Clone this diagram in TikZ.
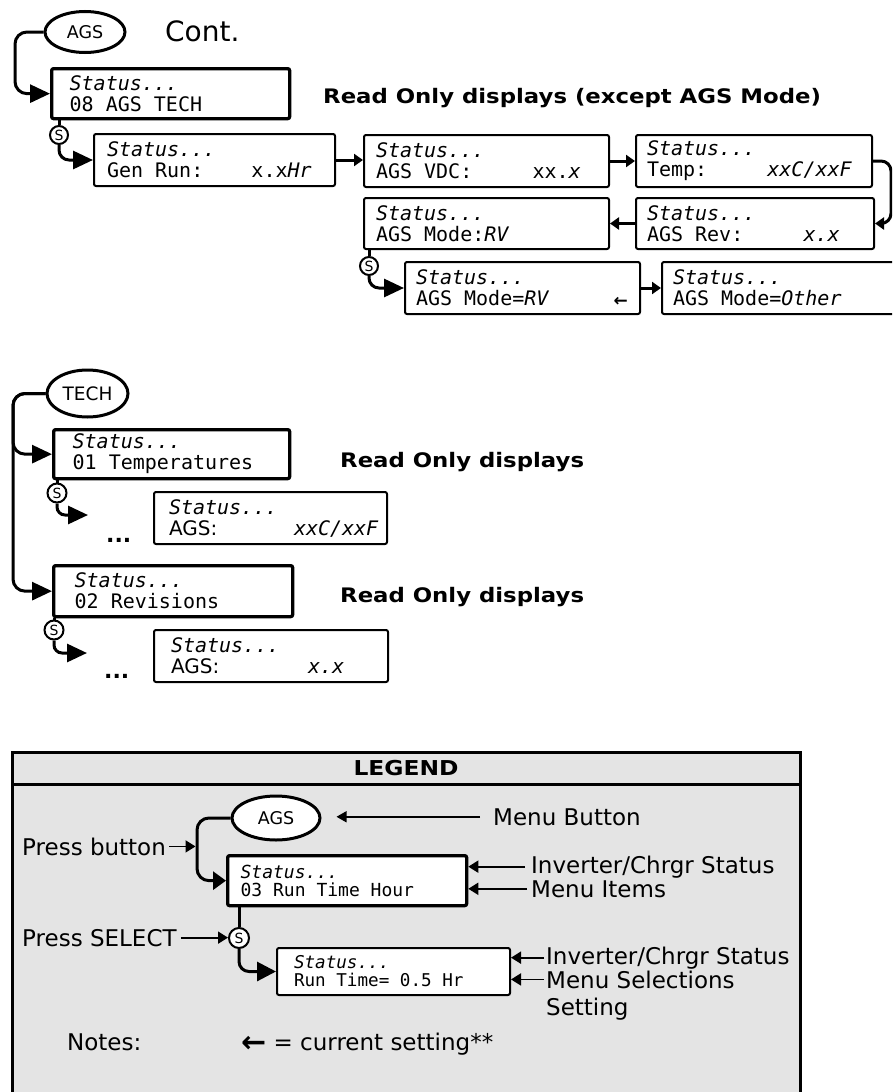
\documentclass[tikz,border=0pt]{standalone}
\usepackage{fontspec}
\setmainfont{DejaVu Sans}
\setmonofont{DejaVu Sans Mono}
\usetikzlibrary{arrows.meta,shapes.geometric}
\definecolor{lgray}{HTML}{E4E4E4}
\newcommand{\wbold}[2]{\scalebox{1.14}[1]{\fontsize{#1}{#1}\selectfont\bfseries #2}}
\newcommand{\ms}{\spaceskip=0pt\xspaceskip=0pt\relax}
\newcommand{\curarrow}[2]{\raisebox{-#2}{\rmfamily\bfseries\fontsize{#1}{#1}\selectfont ←}}
\frenchspacing
\begin{document}
\begin{tikzpicture}[x=1pt,y=-1pt,
 conn/.style={line width=3pt},
 bigarrow/.style={-{Triangle[length=20pt,width=18pt]}},
 smallarrow/.style={-{Triangle[length=9pt,width=12pt]}},
 lblarrow/.style={line width=1.8pt,-{Triangle[length=10pt,width=12pt]}},
 lcd/.style={draw, rounded corners=2pt, anchor=north west, align=left, inner ysep=0pt, fill=white, font=\ttfamily\fontsize{20}{21}\selectfont},
 thickbox/.style={lcd, line width=3.3pt},
 thinbox/.style={lcd, line width=2pt},
 btn/.style={draw, ellipse, line width=3pt, inner sep=0pt, fill=white},
 sel/.style={draw, circle, line width=2pt, inner sep=0pt, minimum size=18pt, fill=white, font=\fontsize{14}{14}\selectfont},
 lbl/.style={inner sep=0pt, anchor=base west, font=\fontsize{23}{23}\selectfont},
]
\useasboundingbox (0,0) rectangle (892,1092);
\clip (0,0) rectangle (892,1092);

% ---------------- top section ----------------
\node[btn, minimum width=80pt, minimum height=41pt, font=\fontsize{17.5}{17.5}\selectfont] (ags1) at (85,32) {AGS};
\node[inner sep=0pt, anchor=base west, font=\fontsize{28}{28}\selectfont] (cont) at (165,41) {Cont.};
\node[thickbox, text width=202pt, inner xsep=18pt, minimum height=50pt] (b08) at (50,67) {\ms\textit{Status...}\\08 AGS TECH};
\node[inner sep=0pt, anchor=base west] (ro1) at (323,103) {\wbold{20}{Read Only displays (except AGS Mode)}};
\node[sel] (s1) at (59,135) {S};
\node[thinbox, text width=215pt, inner xsep=13pt, minimum height=52pt] (genrun) at (93,133) {\ms\textit{Status...}\\Gen Run:~~~~x.x\textit{Hr}};
\node[thinbox, text width=221pt, inner xsep=12pt, minimum height=52pt] (vdc) at (363,134) {\ms\textit{Status...}\\AGS VDC:~~~~~xx.\textit{x}};
\node[thinbox, text width=214pt, inner xsep=11pt, minimum height=52pt] (temp) at (635,134) {\ms\textit{Status...}\\Temp:~~~~~\textit{xxC/xxF}};
\node[thinbox, text width=221pt, inner xsep=12pt, minimum height=51pt] (moderv1) at (363,197) {\ms\textit{Status...}\\AGS Mode:\textit{RV}};
\node[thinbox, text width=216pt, inner xsep=11pt, minimum height=51pt] (rev) at (635,197) {\ms\textit{Status...}\\AGS Rev:~~~~~\textit{x.x}};
\node[sel] (s2) at (369,266) {S};
\node[thinbox, text width=213pt, inner xsep=11pt, minimum height=52pt] (moderv2) at (404,261) {\ms\textit{Status...}\\AGS Mode=\textit{RV}~~~~~\rlap{\hspace{4pt}\curarrow{17}{1pt}}};
\node[thinbox, text width=223pt, inner xsep=11pt, minimum height=52pt] (other) at (661,261) {\ms\textit{Status...}\\AGS Mode=\textit{Other}};

\draw[conn,bigarrow,rounded corners=12pt] (ags1.west) -| ([xshift=-35pt]b08.west) -- (b08.west);
\draw[conn] (b08.south -| s1) -- (s1.north);
\draw[conn,bigarrow,rounded corners=10pt] (s1.south) |- (genrun.west);
\draw[conn,smallarrow] (genrun.east) -- (genrun.east -| vdc.west);
\draw[conn,smallarrow] (vdc.east) -- (vdc.east -| temp.west);
\draw[conn,smallarrow,rounded corners=10pt] (temp.east) -- ++(18,0) |- (rev.east);
\draw[conn,smallarrow] (rev.west) -- (rev.west -| moderv1.east);
\draw[conn] (moderv1.south -| s2) -- (s2.north);
\draw[conn,bigarrow,rounded corners=10pt] (s2.south) |- (moderv2.west);
\draw[conn,smallarrow] (moderv2.east) -- (moderv2.east -| other.west);

% ---------------- TECH section ----------------
\node[btn, minimum width=81pt, minimum height=47pt, font=\fontsize{18.5}{18.5}\selectfont] (tech) at (87.5,393.5) {TECH};
\node[thickbox, text width=198pt, inner xsep=19pt, minimum height=49pt] (temps) at (52,428) {\ms\textit{Status...}\\01 Temperatures};
\node[inner sep=0pt, anchor=base west] (ro2) at (340,467) {\wbold{20}{Read Only displays}};
\node[sel, minimum size=19pt] (s3) at (57,493) {S};
\coordinate (e1) at (88,515);
\node[inner sep=0pt, anchor=base west, font=\bfseries\fontsize{22}{22}\selectfont] (dots1) at (106,542) {...};
\node[thinbox, text width=203pt, inner xsep=15pt, minimum height=52pt] (agst) at (153,491) {\ms\textit{Status...}\\\makebox[125pt][l]{\rmfamily AGS:}\textit{xxC/xxF}};
\node[thickbox, text width=197pt, inner xsep=21pt, minimum height=51pt] (revs) at (52,564) {\ms\textit{Status...}\\02 Revisions};
\node[inner sep=0pt, anchor=base west] (ro3) at (340,602) {\wbold{20}{Read Only displays}};
\node[sel, minimum size=19pt] (s4) at (54,630) {S};
\coordinate (e2) at (87,653);
\node[inner sep=0pt, anchor=base west, font=\bfseries\fontsize{22}{22}\selectfont] (dots2) at (104,678) {...};
\node[thinbox, text width=200pt, inner xsep=17pt, minimum height=52pt] (agsr) at (153,629) {\ms\textit{Status...}\\\makebox[137pt][l]{\rmfamily AGS:}\textit{x.x}};

\draw[conn,bigarrow,rounded corners=12pt] (tech.west) -| ([xshift=-39pt]temps.west) -- (temps.west);
\draw[conn,bigarrow,rounded corners=12pt] (tech.west) -| ([xshift=-39pt]revs.west) -- (revs.west);
\draw[conn] (temps.south -| s3) -- (s3.north);
\draw[conn,bigarrow,rounded corners=8pt] (s3.south) |- (e1);
\draw[conn] (revs.south -| s4) -- (s4.north);
\draw[conn,bigarrow,rounded corners=8pt] (s4.south) |- (e2);

% ---------------- legend ----------------
\draw[line width=3pt, fill=lgray] (12,752) rectangle (800,1110);
\draw[line width=3pt] (12,784) -- (800,784);
\node[inner sep=0pt, anchor=base] (legend) at (406,775) {\wbold{20.5}{LEGEND}};
\node[btn, minimum width=88pt, minimum height=44pt, font=\fontsize{17.5}{17.5}\selectfont] (lags) at (276,818) {AGS};
\node[thickbox, text width=213pt, inner xsep=13pt, minimum height=50pt, font=\ttfamily\fontsize{18}{18}\selectfont] (lstat) at (226,854) {\ms\textit{Status...}\\03 Run Time Hour};
\node[sel, minimum size=20pt] (ls) at (239,938) {S};
\node[thinbox, text width=199pt, inner xsep=17pt, minimum height=47pt, font=\ttfamily\fontsize{17.6}{18}\selectfont] (lsel) at (276,947) {\ms\textit{Status...}\\Run Time= 0.5 Hr};
\coordinate (lx) at ([xshift=-29pt]lstat.west);

\draw[conn,-{Triangle[length=13pt,width=18pt]},rounded corners=12pt] (lags.west) -| (lx) -- (lstat.west);
\draw[conn] (lstat.south -| ls) -- (ls.north);
\draw[conn,-{Triangle[length=19pt,width=19pt]},rounded corners=10pt] (ls.south) |- (lsel.west);

\node[lbl] (mb) at (493,825) {Menu Button};
\node[lbl] (ics1) at (531,873) {Inverter/Chrgr Status};
\node[lbl] (mi) at (531,897) {Menu Items};
\node[lbl] (ics2) at (546,964) {Inverter/Chrgr Status};
\node[lbl] (msel) at (546,988) {Menu Selections};
\node[lbl] (setting) at (546,1015) {Setting};
\node[lbl] (pb) at (22,855) {Press button};
\node[lbl] (ps) at (22,946) {Press SELECT};
\node[lbl] (notes) at (67,1050) {Notes:};
\node[lbl] (cur) at (241,1050) {\curarrow{30}{2pt} = current setting**};

\draw[line width=1.5pt,-{Triangle[length=10pt,width=11pt]}] ([xshift=-13pt]mb.west) -- ([xshift=15pt]lags.east |- mb.west);
\draw[lblarrow] ([xshift=-6pt]ics1.west) -- (ics1.west -| lstat.east);
\draw[lblarrow] ([xshift=-4pt]mi.west) -- (mi.west -| lstat.east);
\draw[lblarrow] ([xshift=-2pt]ics2.west) -- (ics2.west -| lsel.east);
\draw[lblarrow] ([xshift=-2pt]msel.west) -- (msel.west -| lsel.east);
\draw[lblarrow] ([xshift=3pt]pb.east) -- ([xshift=-1.5pt]pb.east -| lx);
\draw[lblarrow] ([xshift=4pt]ps.east) -- (ps.east -| ls.west);
\end{tikzpicture}
\end{document}
